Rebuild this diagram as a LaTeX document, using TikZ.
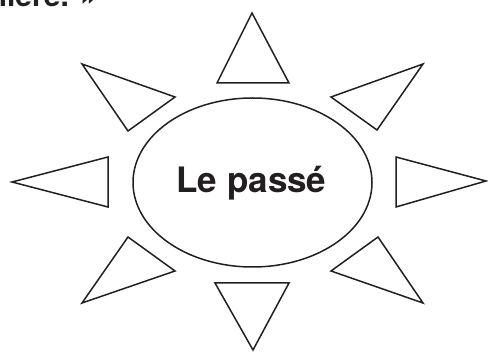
\documentclass[tikz,border=0pt]{standalone}
\usepackage{fontspec}
\setmainfont{TeX Gyre Heros}
\usetikzlibrary{shapes.geometric}
\definecolor{ink}{HTML}{231F20}
\tikzset{
  ray/.style={draw=ink, line width=1.5pt, line join=miter},
  sunbody/.style={draw=ink, line width=1.5pt, ellipse, inner sep=0pt, minimum width=239pt, minimum height=169pt},
  label/.style={text=ink, font=\bfseries\fontsize{35}{40}\selectfont, inner sep=0pt},
  quote/.style={text=ink, font=\bfseries\fontsize{30}{34}\selectfont, inner sep=0pt}
}
\begin{document}
\begin{tikzpicture}[x=1pt, y=-1pt]
\path[use as bounding box] (0,0) rectangle (488,352);
\clip (0,0) rectangle (488,352);
\node[quote, anchor=base east] (quote) at (97,7) {lumière. »};
\node[sunbody] (sun) at (252.5,182.5) {};
\node[label, anchor=base] (title) at (251.5,193) {Le passé};
% top
\draw[ray] (252,13) -- (289,83) -- (217,83) -- cycle;
% bottom
\draw[ray] (215,283) -- (289,283) -- (253,350) -- cycle;
% left
\draw[ray] (12,182) -- (108,157) -- (108,207) -- cycle;
% right
\draw[ray] (396,157) -- (486,181) -- (396,207) -- cycle;
% upper left
\draw[ray] (82,64) -- (175,97) -- (128,131) -- cycle;
% upper right
\draw[ray] (423,64) -- (331,97) -- (377,130) -- cycle;
% lower left
\draw[ray] (128,237) -- (175,271) -- (82,303) -- cycle;
% lower right
\draw[ray] (378,237) -- (331,271) -- (423,303) -- cycle;
\end{tikzpicture}
\end{document}
